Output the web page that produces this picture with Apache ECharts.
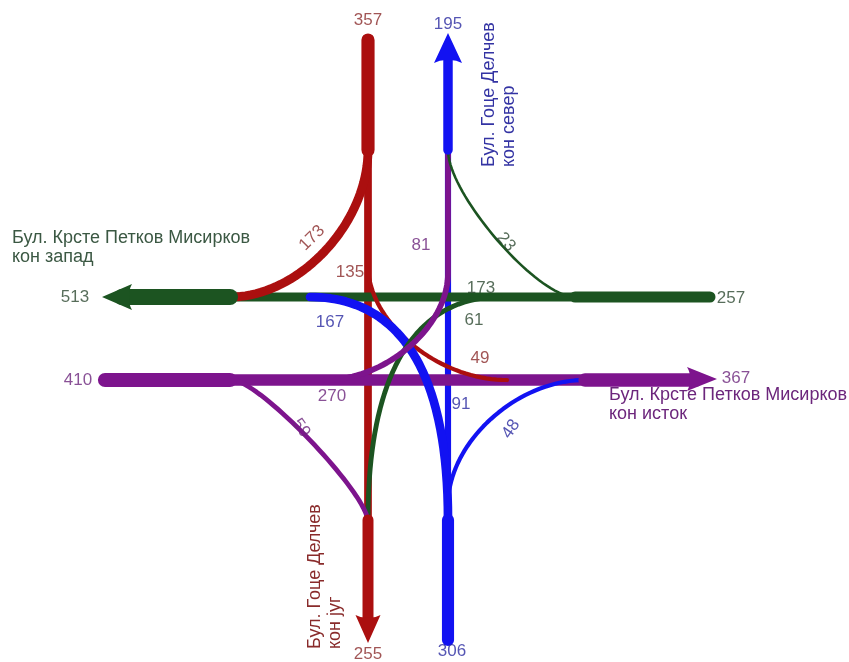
<!DOCTYPE html>
<html>
<head>
<meta charset="utf-8">
<script src="https://cdn.jsdelivr.net/npm/echarts@6/dist/echarts.min.js"></script>
<style>html,body{margin:0;padding:0;background:#fff}#main{width:849px;height:662px}</style>
</head>
<body>
<div id="main"></div>
<script>
// сообраќај по прилаз: [лево, право, десно]
const movements = ['left', 'through', 'right'];
const fromNorth = [49, 135, 173];
const fromSouth = [167, 91, 48];
const fromEast = [61, 173, 23];
const fromWest = [81, 270, 59];
const streetNorth = 'Бул. Гоце Делчев\nкон север';
const streetSouth = 'Бул. Гоце Делчев\nкон југ';
const streetEast = 'Бул. Крсте Петков Мисирков\nкон исток';
const streetWest = 'Бул. Крсте Петков Мисирков\nкон запад';

const volumes = {N: fromNorth, S: fromSouth, E: fromEast, W: fromWest};
const turnTo = {N: ['E', 'S', 'W'], S: ['W', 'N', 'E'], E: ['S', 'W', 'N'], W: ['N', 'E', 'S']};
const throughOf = {N: 'S', S: 'N', E: 'W', W: 'E'}; // exit -> approach whose through ends there
const colors = {N: '#ab0f0f', S: '#1212f2', E: '#1c5421', W: '#7d148d'};
const textColors = {N: '#892b2b', S: '#2a2aa0', E: '#2d4831', W: '#6c267c'};
const FONT = "'Liberation Sans', Arial, sans-serif";

// travel direction on entering / leaving
const inDir = {N: [0, 1], S: [0, -1], E: [-1, 0], W: [1, 0]};
const outDir = {N: [0, -1], S: [0, 1], E: [1, 0], W: [-1, 0]};

// layout of the drawing (pixel space)
const moveGeo = {
  N: [
    {pts: [[368, 150], [368, 265]], end: [507, 380], k: [0.5, 0.5], label: [480, 358, 0]},
    {pts: [[368, 150]], end: [368, 520], label: [350, 272, 0]},
    {pts: [[368, 150]], end: [230, 297], k: [0.5, 0.5], label: [312, 238, 45]}
  ],
  S: [
    {pts: [[448, 520]], end: [310, 297], k: [0.8, 0.5], label: [330, 322, 0]},
    {pts: [[448, 520]], end: [448, 150], label: [461, 404, 0]},
    {pts: [[448, 505]], end: [585, 380], k: [0.5, 0.5], label: [511, 429, 55]}
  ],
  E: [
    {pts: [[500, 297]], end: [368, 520], k: [0.65, 0.65], label: [474, 320, 0]},
    {pts: [[710, 297]], end: [230, 297], label: [481, 288, 0]},
    {pts: [[575, 297]], end: [448, 150], k: [0.3, 0.3], label: [506, 242, -50]}
  ],
  W: [
    {pts: [[325, 380]], end: [448, 273], k: [0.5, 0.5], post: [[448, 150]], label: [421, 245, 0]},
    {pts: [[230, 380]], end: [585, 380], label: [332, 396, 0]},
    {pts: [[232, 380]], end: [368, 522], k: [0.2, 0.2], label: [301, 428, -55]}
  ]
};
const trunkGeo = {
  N: {in: [[368, 40], [368, 150]], out: [[448, 150], [448, 52]], arrow: [448, 48], size: [28, 30], rot: 0,
      inLabel: [368, 20], outLabel: [448, 24]},
  S: {in: [[448, 640], [448, 520]], out: [[368, 520], [368, 624]], arrow: [368, 629], size: [25, 28], rot: 180,
      inLabel: [452, 651], outLabel: [368, 654]},
  E: {in: [[710, 297], [575, 297]], out: [[585, 380], [696, 380]], arrow: [702, 379], size: [24, 30], rot: -90,
      inLabel: [731, 298], outLabel: [736, 378]},
  W: {in: [[105, 380], [230, 380]], out: [[230, 297], [122, 297]], arrow: [117, 297], size: [26, 30], rot: 90,
      inLabel: [78, 380], outLabel: [75, 297]}
};

function widthOf(v) { return 0.75 * Math.sqrt(v) - 1; }

function curve(p0, d0, p3, d3, k) {
  const dx = Math.abs(p3[0] - p0[0]), dy = Math.abs(p3[1] - p0[1]);
  const l0 = d0[0] ? dx : dy, l3 = d3[0] ? dx : dy;
  const p1 = [p0[0] + d0[0] * k[0] * l0, p0[1] + d0[1] * k[0] * l0];
  const p2 = [p3[0] - d3[0] * k[1] * l3, p3[1] - d3[1] * k[1] * l3];
  const out = [];
  for (let i = 1; i <= 40; i++) {
    const t = i / 40, u = 1 - t;
    out.push([
      u * u * u * p0[0] + 3 * u * u * t * p1[0] + 3 * u * t * t * p2[0] + t * t * t * p3[0],
      u * u * u * p0[1] + 3 * u * u * t * p1[1] + 3 * u * t * t * p2[1] + t * t * t * p3[1]
    ]);
  }
  return out;
}

function lineSeries(points, color, width) {
  return {
    type: 'line', data: points, showSymbol: false, silent: true, z: 2,
    lineStyle: {color: color, width: width, cap: 'round', join: 'round'}
  };
}

const approaches = ['N', 'S', 'E', 'W'];
const entryTotal = {}, exitTotal = {N: 0, S: 0, E: 0, W: 0};
approaches.forEach(a => {
  entryTotal[a] = volumes[a].reduce((s, v) => s + v, 0);
  volumes[a].forEach((v, i) => { exitTotal[turnTo[a][i]] += v; });
});

const series = [];
// through movements first, turning movements on top
const order = [1, 0, 2];
order.forEach(i => {
  approaches.forEach(a => {
    const g = moveGeo[a][i], v = volumes[a][i];
    let pts = g.pts.slice();
    if (movements[i] === 'through') pts.push(g.end);
    else pts = pts.concat(curve(g.pts[g.pts.length - 1], inDir[a], g.end, outDir[turnTo[a][i]], g.k));
    if (g.post) pts = pts.concat(g.post);
    series.push(lineSeries(pts, colors[a], widthOf(v)));
  });
});
// approach and exit trunks
approaches.forEach(a => {
  const t = trunkGeo[a];
  series.push(lineSeries(t.in, colors[a], widthOf(entryTotal[a])));
  series.push(lineSeries(t.out, colors[throughOf[a]], widthOf(exitTotal[a])));
});
// arrow heads on exits
series.push({
  type: 'scatter', silent: true, z: 3,
  symbol: 'path://M0,0 L13,26 Q7,23 0,23.5 Q-7,23 -13,26 Z',
  data: approaches.map(a => ({
    value: trunkGeo[a].arrow, symbolSize: trunkGeo[a].size, symbolRotate: trunkGeo[a].rot,
    itemStyle: {color: colors[throughOf[a]], opacity: 1}
  }))
});
// volume labels
const labelData = [];
approaches.forEach(a => {
  volumes[a].forEach((v, i) => {
    const p = moveGeo[a][i].label;
    labelData.push({value: [p[0], p[1]], name: String(v), label: {rotate: p[2], color: textColors[a]}});
  });
  const t = trunkGeo[a];
  labelData.push({value: t.inLabel, name: String(entryTotal[a]), label: {color: textColors[a]}});
  labelData.push({value: t.outLabel, name: String(exitTotal[a]), label: {color: textColors[throughOf[a]]}});
});
series.push({
  type: 'scatter', silent: true, z: 4, symbolSize: 0, itemStyle: {color: 'transparent'},
  label: {show: true, position: 'inside', formatter: '{b}', fontSize: 17, fontFamily: FONT},
  data: labelData
});

function streetText(x, y, text, color, rot, lh) {
  return {
    type: 'text', x: x, y: y, rotation: rot, silent: true, z: 10,
    style: {text: text, fill: color, font: '18px ' + FONT, lineHeight: lh, align: 'left', verticalAlign: 'top'}
  };
}

const chart = echarts.init(document.getElementById('main'));
chart.setOption({
  animation: false,
  backgroundColor: '#ffffff',
  grid: {left: 0, right: 0, top: 0, bottom: 0},
  xAxis: {type: 'value', min: 0, max: 849, show: false},
  yAxis: {type: 'value', min: 0, max: 662, inverse: true, show: false},
  series: series,
  graphic: [
    streetText(12, 229, streetWest, '#3b5843', 0, 19),
    streetText(609, 386, streetEast, textColors.W, 0, 19),
    streetText(479, 167, streetNorth, '#3333a3', Math.PI / 2, 20),
    streetText(305, 649, streetSouth, textColors.N, Math.PI / 2, 20)
  ]
});
</script>
</body>
</html>
